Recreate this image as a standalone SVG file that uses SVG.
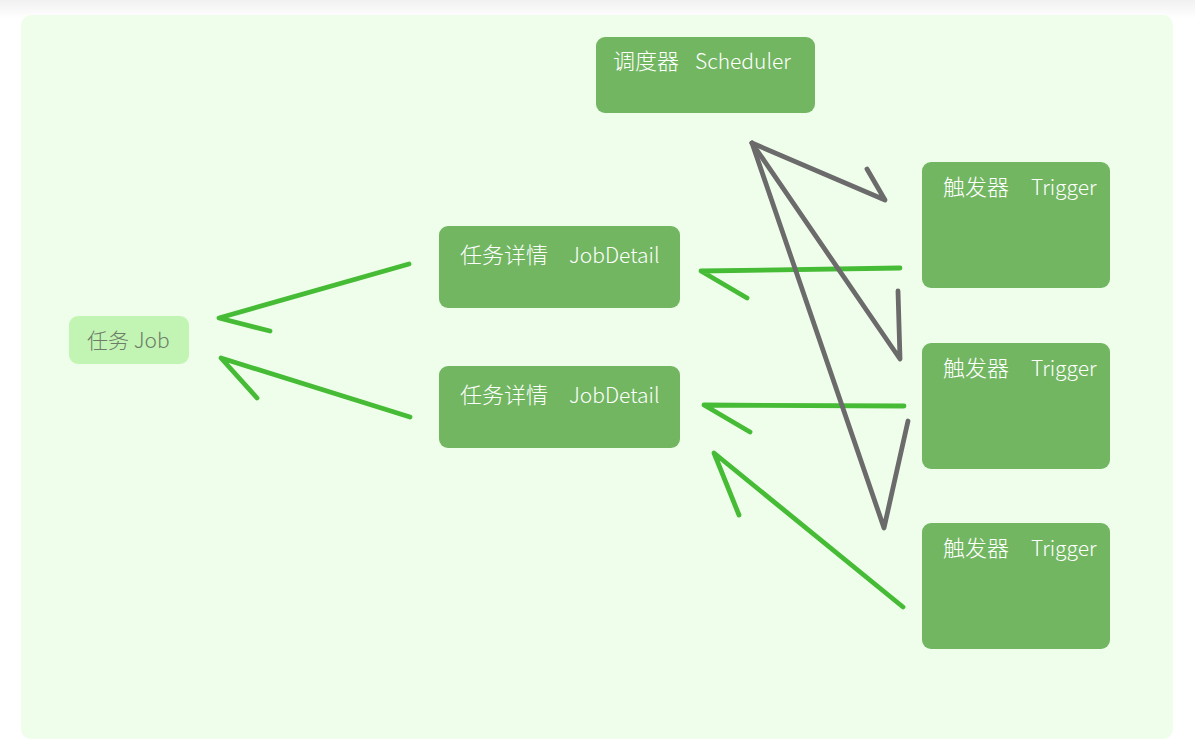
<svg xmlns="http://www.w3.org/2000/svg" width="1195" height="754" viewBox="0 0 1195 754">
  <defs>
    <linearGradient id="topShade" x1="0" y1="0" x2="0" y2="1">
      <stop offset="0" stop-color="#f1f1f1"/>
      <stop offset="1" stop-color="#ffffff"/>
    </linearGradient>
    <style>
      .box { fill: #72b662; }
      .job { fill: #c2f5b3; }
      .lbl { font-family: "Noto Sans CJK SC", "Noto Sans", "Liberation Sans", sans-serif; font-size: 21px; font-weight: 300; fill: #ffffff; }
      .cjk { font-size: 22px; }
      .jobLbl { fill: #6d7b69; font-size: 21px; }
      .g { fill: none; stroke: #46bb35; stroke-width: 4.8; stroke-linecap: round; stroke-linejoin: round; }
      .k { fill: none; stroke: #6b6b6b; stroke-width: 4.8; stroke-linecap: round; stroke-linejoin: round; }
    </style>
  </defs>

  <!-- page backdrop -->
  <rect x="0" y="0" width="1195" height="754" fill="#ffffff"/>
  <rect x="0" y="0" width="1195" height="18" fill="url(#topShade)"/>
  <rect x="21" y="15" width="1152" height="724" rx="10" fill="#effeea"/>

  <!-- connectors -->
  <g id="connectors">
    <!-- JobDetail -> Job -->
    <polyline class="g" points="409,264 219,318 270,331"/>
    <polyline class="g" points="410,417 221,358 257,398"/>
    <!-- Trigger -> JobDetail -->
    <polyline class="g" points="900,268 701,271 747,298"/>
    <polyline class="g" points="904,406 704,405 750,432"/>
    <polyline class="g" points="903,607 714,453 739,515"/>
    <!-- Scheduler -> Trigger -->
    <polyline class="k" points="752,143 885,200 867,169"/>
    <polyline class="k" points="752,143 900,359 898,291"/>
    <polyline class="k" points="752,143 884,528 908,421"/>
  </g>

  <g id="scheduler">
    <rect class="box" x="596" y="37" width="219" height="76" rx="9"/>
    <text class="lbl cjk" x="613" y="69">调度器</text>
    <text class="lbl" x="695" y="69">Scheduler</text>
  </g>

  <g id="trigger1">
    <rect class="box" x="922" y="162" width="188" height="126" rx="9"/>
    <text class="lbl cjk" x="943" y="195">触发器</text>
    <text class="lbl" x="1031" y="195">Trigger</text>
  </g>
  <g id="trigger2">
    <rect class="box" x="922" y="343" width="188" height="126" rx="9"/>
    <text class="lbl cjk" x="943" y="376">触发器</text>
    <text class="lbl" x="1031" y="376">Trigger</text>
  </g>
  <g id="trigger3">
    <rect class="box" x="922" y="523" width="188" height="126" rx="9"/>
    <text class="lbl cjk" x="943" y="556">触发器</text>
    <text class="lbl" x="1031" y="556">Trigger</text>
  </g>

  <g id="jobDetail1">
    <rect class="box" x="439" y="226" width="241" height="82" rx="9"/>
    <text class="lbl cjk" x="460" y="263">任务详情</text>
    <text class="lbl" x="569" y="263">JobDetail</text>
  </g>
  <g id="jobDetail2">
    <rect class="box" x="439" y="366" width="241" height="82" rx="9"/>
    <text class="lbl cjk" x="460" y="403">任务详情</text>
    <text class="lbl" x="569" y="403">JobDetail</text>
  </g>

  <g id="job">
    <rect class="job" x="69" y="316" width="120" height="48" rx="9"/>
    <text class="lbl jobLbl" x="87" y="348">任务 Job</text>
  </g>
</svg>
